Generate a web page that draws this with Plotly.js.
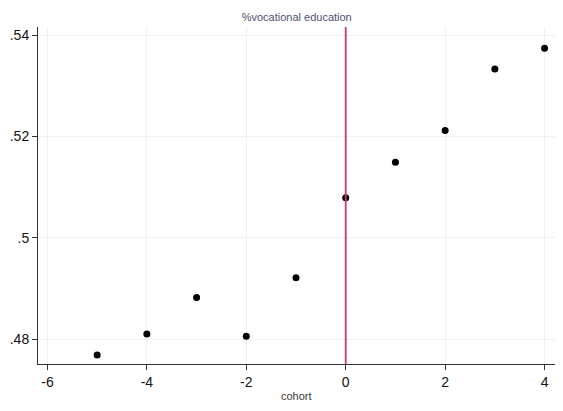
<!DOCTYPE html>
<html>
<head>
<meta charset="utf-8">
<script src="https://cdn.plot.ly/plotly-3.0.1.min.js"></script>
<style>html,body{margin:0;padding:0;background:#fff;}#chart{width:563px;height:411px;}</style>
</head>
<body>
<div id="chart"></div>
<script>
var cohort = [-5, -4, -3, -2, -1, 0, 1, 2, 3, 4];
var vocational = [0.4769, 0.4810, 0.4882, 0.4806, 0.4921, 0.5079, 0.5149, 0.5212, 0.5333, 0.5374];
var xTickVals = [-6, -4, -2, 0, 2, 4];
var xTickText = ["-6", "-4", "-2", "0", "2", "4"];
var yTickVals = [0.48, 0.50, 0.52, 0.54];
var yTickText = [".48", ".5", ".52", ".54"];
var cutoff = [0];

var traces = [{
  x: cohort, y: vocational, type: 'scatter', mode: 'markers',
  marker: {color: '#000', size: 7},
  hoverinfo: 'skip', showlegend: false
}];

var layout = {
  width: 563, height: 411,
  margin: {l: 38, r: 8, t: 27, b: 47},
  paper_bgcolor: '#fff', plot_bgcolor: '#fff',
  font: {family: 'Liberation Sans, Arial, sans-serif', color: '#000'},
  title: {
    text: '%vocational education',
    font: {size: 11, color: '#4e5070', family: 'Liberation Sans, Arial, sans-serif'},
    x: 0.527, xref: 'container', xanchor: 'center',
    y: 1 - 17/411, yref: 'container', yanchor: 'middle'
  },
  xaxis: {
    range: [-6.19, 4.21],
    tickvals: xTickVals, ticktext: xTickText,
    ticks: 'outside', ticklen: 5, tickcolor: '#333', tickwidth: 1,
    tickfont: {size: 14, color: '#111'},
    showline: true, linecolor: '#333', linewidth: 1,
    showgrid: true, gridcolor: '#edf3f4', gridwidth: 1.2,
    zeroline: false
  },
  yaxis: {
    range: [0.4751, 0.5416],
    tickvals: yTickVals, ticktext: yTickText,
    ticks: 'outside', ticklen: 5, tickcolor: '#333', tickwidth: 1,
    tickfont: {size: 14, color: '#111'},
    showline: true, linecolor: '#333', linewidth: 1,
    showgrid: true, gridcolor: '#edf3f4', gridwidth: 1.2,
    zeroline: false
  },
  annotations: [{
    text: 'cohort', xref: 'paper', yref: 'paper', x: 0.5, y: -32/337,
    xanchor: 'center', yanchor: 'middle', showarrow: false,
    font: {size: 11, color: '#3a3a3a'}
  }],
  shapes: cutoff.map(function (c) {
    return {type: 'line', xref: 'x', yref: 'paper', x0: c, x1: c, y0: 0, y1: 1,
            line: {color: '#cc3d63', width: 1.8}, layer: 'above'};
  })
};

Plotly.newPlot('chart', traces, layout, {displayModeBar: false, staticPlot: true});
</script>
</body>
</html>
